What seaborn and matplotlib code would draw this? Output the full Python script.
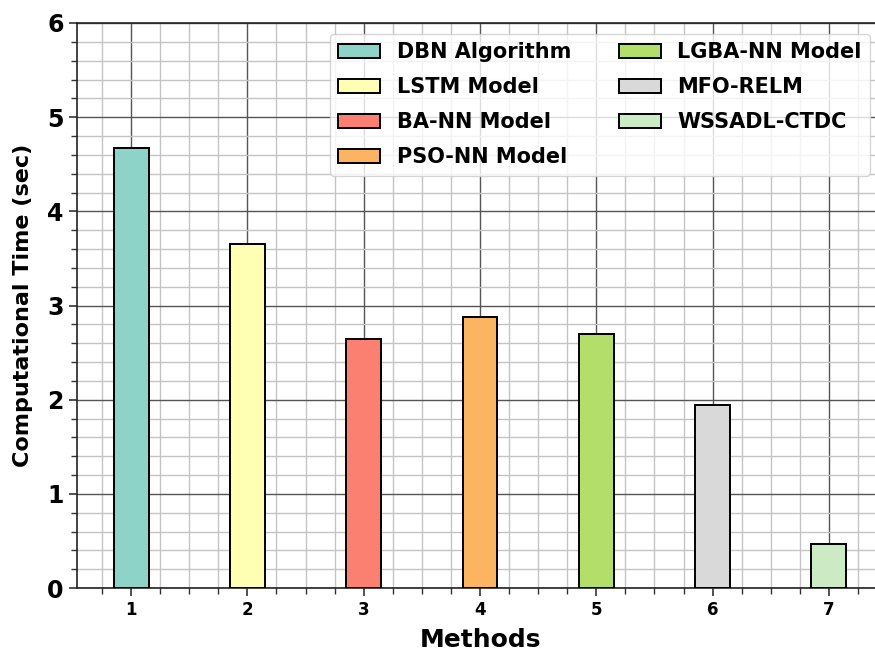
import matplotlib
matplotlib.use("Agg")
import matplotlib.pyplot as plt
import seaborn as sns
import pandas as pd
from matplotlib.ticker import AutoMinorLocator, MultipleLocator

methods = [1, 2, 3, 4, 5, 6, 7]
names = ["DBN Algorithm", "LSTM Model", "BA-NN Model", "PSO-NN Model",
         "LGBA-NN Model", "MFO-RELM", "WSSADL-CTDC"]
times = [4.67, 3.65, 2.64, 2.88, 2.70, 1.94, 0.47]
colors = ["#8dd3c7", "#ffffb3", "#fb8072", "#fdb462", "#b3de69", "#d9d9d9", "#ccebc5"]

df = pd.DataFrame({"Method": methods, "Name": names, "Time": times})

sns.set_style("ticks")
plt.rcParams['font.family'] = ['DejaVu Sans']
plt.rcParams['font.weight'] = 'bold'
plt.rcParams['text.color'] = 'black'
plt.rcParams['axes.labelcolor'] = 'black'
plt.rcParams['xtick.color'] = 'black'
plt.rcParams['ytick.color'] = 'black'

fig = plt.figure(figsize=(8.75, 6.51), dpi=100)
ax = fig.add_axes([77/875, 1-588/651, (883-77)/875, (588-23)/651])

sns.barplot(data=df, x="Method", y="Time", hue="Name", palette=colors,
            native_scale=True, dodge=False, width=0.3, edgecolor="black",
            linewidth=1.4, saturation=1, ax=ax, zorder=3)

ax.set_xlim(0.535, 7.465)
ax.set_ylim(0, 6)
ax.xaxis.set_major_locator(MultipleLocator(1))
ax.xaxis.set_minor_locator(AutoMinorLocator(4))
ax.yaxis.set_major_locator(MultipleLocator(1))
ax.yaxis.set_minor_locator(AutoMinorLocator(5))

ax.grid(which="major", color="#555555", linewidth=1.0, zorder=0)
ax.grid(which="minor", color="#c4c4c4", linewidth=1.0, zorder=0)
ax.set_axisbelow(True)

for s in ax.spines.values():
    s.set_color("#222222")
    s.set_linewidth(1.2)

ax.tick_params(axis="y", which="major", labelsize=17, length=6, width=1.2, color="#333333")
ax.tick_params(axis="x", which="major", labelsize=12, length=6, width=1.2, color="#333333")
ax.tick_params(which="minor", length=4, width=1.0, color="#333333")
for lab in ax.get_xticklabels() + ax.get_yticklabels():
    lab.set_fontweight("bold")

ax.set_xlabel("Methods", fontsize=18, fontweight="bold", labelpad=6)
ax.set_ylabel("Computational Time (sec)", fontsize=16, fontweight="bold", labelpad=10)

handles, labels = ax.get_legend_handles_labels()
ax.legend(handles, labels, ncol=2, loc="upper right",
          bbox_to_anchor=(870/875, 1-34/651), bbox_transform=fig.transFigure,
          borderaxespad=0, prop={"weight": "bold", "size": 15},
          handlelength=2.0, columnspacing=2.3, labelspacing=0.72,
          frameon=True, fancybox=True, framealpha=0.8, edgecolor="#cccccc")

fig.savefig("out.png", dpi=100)
